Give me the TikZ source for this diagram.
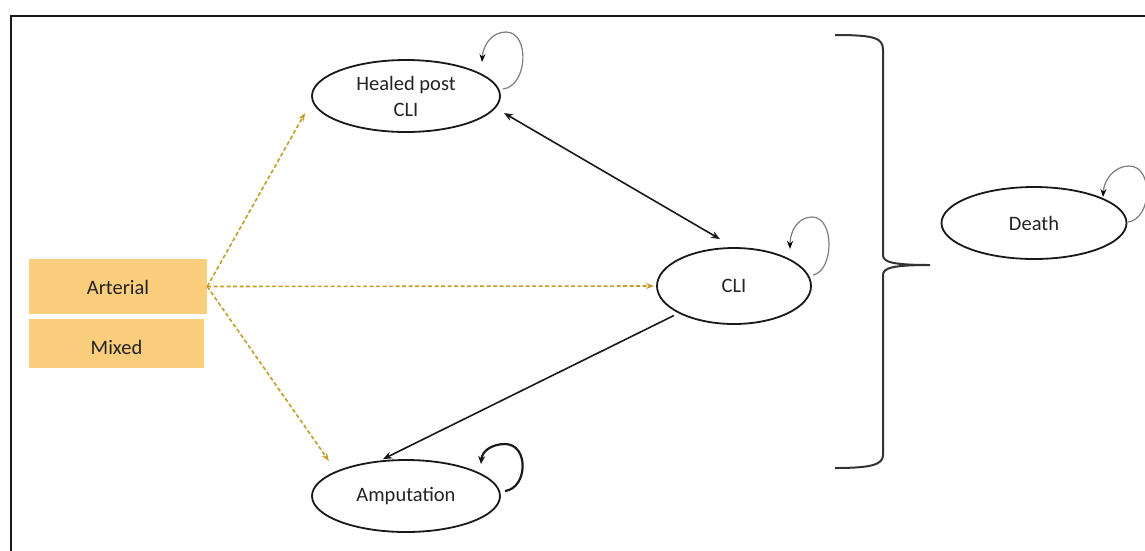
\documentclass[tikz,border=0pt]{standalone}
\usepackage{fontspec}
\setmainfont{Carlito}
\usetikzlibrary{arrows.meta,shapes.geometric,calc}
\definecolor{boxfill}{RGB}{250,206,124}
\definecolor{dashgold}{RGB}{196,156,40}
\definecolor{txt}{RGB}{35,35,35}
\definecolor{loopgray}{RGB}{125,125,125}
\begin{document}
\begin{tikzpicture}[x=1pt,y=-1pt,
  state/.style={ellipse,draw=black!90,line width=1.8pt,inner sep=0pt,text=txt,
    font=\fontsize{20.5}{26}\selectfont,align=center},
  catbox/.style={rectangle,fill=boxfill,inner sep=0pt,text=txt,
    font=\fontsize{20.5}{26}\selectfont},
  goldarrow/.style={draw=dashgold,line width=1.6pt,dash pattern=on 4pt off 2.5pt,
    -{Stealth[length=8pt,width=6pt]}},
  blackarrow/.style={draw=black!90,line width=1.6pt,-{Stealth[length=9pt,width=7pt]}},
  grayloop/.style={draw=loopgray,line width=1.2pt,-{Stealth[length=8pt,width=6pt,color=black]}},
  blackloop/.style={draw=black!90,line width=2.2pt,-{Stealth[length=8pt,width=7pt]}},
  bracestyle/.style={draw=black!80,line width=2pt},
  framestyle/.style={draw=black!90,line width=2.4pt}
]
\useasboundingbox (0,0) rectangle (1145,550);
\draw[framestyle] (11,552) -- (11,16) -- (1147,16);

% nodes
\node[state,minimum width=188pt,minimum height=72pt] (healed) at (406,96) {Healed post\\CLI};
\node[state,minimum width=154pt,minimum height=76pt] (cli) at (734,286) {CLI};
\node[state,minimum width=185pt,minimum height=72pt] (death) at (1034,223) {Death};
\node[state,minimum width=188pt,minimum height=72pt] (amp) at (406,496) {Amputation};
\node[catbox,minimum width=178pt,minimum height=55pt,text height=16pt,text depth=0pt] (art) at (118,286.5) {Arterial};
\node[catbox,minimum width=175pt,minimum height=49pt,text height=21pt,text depth=0pt] (mix) at (116.5,343.5) {Mixed};

% dashed arrows from Arterial
\draw[goldarrow] (art.east) -- ([xshift=-6pt,yshift=-17pt]healed.west);
\draw[goldarrow] (art.east) -- ([xshift=-2pt]cli.west);
\draw[goldarrow] (art.east) -- ([xshift=-10pt,yshift=9pt]amp.north west);

% black arrows
\draw[blackarrow,{Stealth[length=9pt,width=7pt]}-{Stealth[length=9pt,width=7pt]}]
  ([xshift=3pt,yshift=-17pt]healed.east) -- ([xshift=-14pt,yshift=8pt]cli.north);
\draw[blackarrow] ([xshift=-5pt,yshift=-2pt]cli.south west) -- ([xshift=-23pt]amp.north);

% self loops
\draw[grayloop] ([shift={(97,-7)}]healed.center)
  .. controls ([shift={(122,-10)}]healed.center) and ([shift={(124,-64)}]healed.center)
  .. ([shift={(100,-64)}]healed.center)
  .. controls ([shift={(86,-64)}]healed.center) and ([shift={(77,-51)}]healed.center)
  .. ([shift={(76,-34)}]healed.center);
\draw[grayloop] ([shift={(79,-11)}]cli.center)
  .. controls ([shift={(100,-15)}]cli.center) and ([shift={(101,-69)}]cli.center)
  .. ([shift={(78,-69)}]cli.center)
  .. controls ([shift={(64,-69)}]cli.center) and ([shift={(56,-55)}]cli.center)
  .. ([shift={(56,-37)}]cli.center);
\draw[grayloop] ([shift={(94,-1)}]death.center)
  .. controls ([shift={(118,-4)}]death.center) and ([shift={(120,-57)}]death.center)
  .. ([shift={(95,-57)}]death.center)
  .. controls ([shift={(81,-57)}]death.center) and ([shift={(70,-44)}]death.center)
  .. ([shift={(69,-26)}]death.center);
\draw[blackloop] ([shift={(99,-5)}]amp.center)
  .. controls ([shift={(122,-8)}]amp.center) and ([shift={(123,-52)}]amp.center)
  .. ([shift={(99,-52)}]amp.center)
  .. controls ([shift={(86,-52)}]amp.center) and ([shift={(76,-45)}]amp.center)
  .. ([shift={(75,-32)}]amp.center);

% brace
\draw[bracestyle] (835,35) .. controls (875,35) and (883,38) .. (883,50) -- (883,255)
  .. controls (883,262) and (892,265) .. (930,265)
  .. controls (892,265) and (883,268) .. (883,275) -- (883,455)
  .. controls (883,465) and (870,468) .. (835,468);
\end{tikzpicture}
\end{document}
